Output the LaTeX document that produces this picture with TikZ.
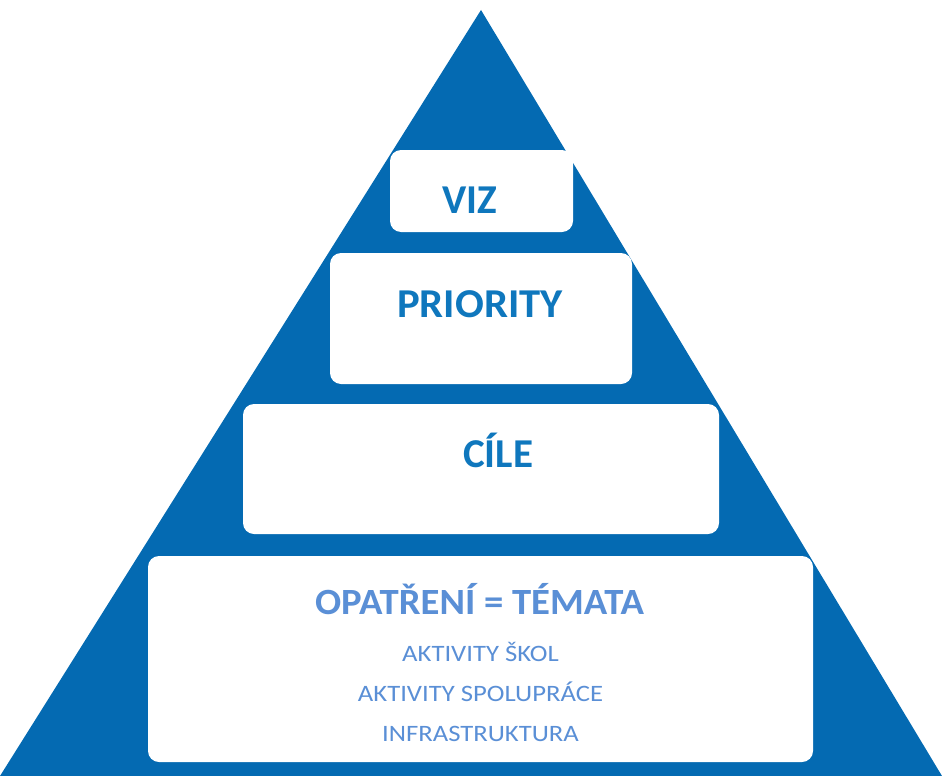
\documentclass[tikz,border=0pt]{standalone}
\usepackage{fontspec}
\setmainfont{Carlito}
\definecolor{tri}{HTML}{046AB2}
\definecolor{topt}{HTML}{0F77BD}
\definecolor{bott}{HTML}{5A8FD6}
\begin{document}
\begin{tikzpicture}[x=1pt,y=-1pt,
  box/.style={fill=white,rounded corners=11pt},
  bigt/.style={font=\bfseries\fontsize{41}{41}\selectfont,text=topt,inner sep=0pt},
  bot/.style={font=\bfseries\fontsize{37}{37}\selectfont,text=bott,inner sep=0pt,xscale=1.046,transform shape},
  sub/.style={font=\fontsize{23.5}{23.5}\selectfont,text=bott,inner sep=0pt,xscale=1.135,transform shape}]
\useasboundingbox (0,0) rectangle (942,776);
\fill[tri] (481,10) -- (942,776) -- (0,776) -- cycle;
\fill[box] (390,150) rectangle (573,232);
\fill[box] (330,253) rectangle (632,384);
\fill[box] (243,404) rectangle (719,534);
\fill[box] (148,556) rectangle (813,762);
\node[bigt,anchor=base] (viz) at (469.5,213) {VIZ};
\node[bigt,anchor=base,xscale=1.04,transform shape] (pri) at (480,317) {PRIORITY};
\node[bigt,anchor=base] (cile) at (498,467) {CÍLE};
\node[bot,anchor=base] (op) at (479.5,614) {OPATŘENÍ = TÉMATA};
\node[sub,anchor=base] (a1) at (480.5,661) {AKTIVITY ŠKOL};
\node[sub,anchor=base] (a2) at (480.5,701) {AKTIVITY SPOLUPRÁCE};
\node[sub,anchor=base] (a3) at (480.5,741) {INFRASTRUKTURA};
\end{tikzpicture}
\end{document}
